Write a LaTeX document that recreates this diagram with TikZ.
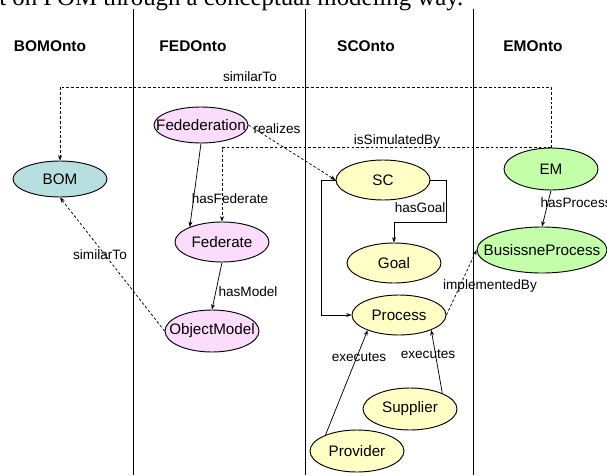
\documentclass[tikz,border=0pt]{standalone}
\usepackage{fontspec}
\setmainfont{Liberation Sans}
\newfontfamily\serifx{Liberation Serif}
\usetikzlibrary{shapes.geometric,arrows.meta}
\definecolor{cyanf}{HTML}{B8DFE0}
\definecolor{pinkf}{HTML}{FCDCFC}
\definecolor{grnf}{HTML}{C4FFAA}
\definecolor{yelf}{HTML}{FFFFC6}
\newcommand\zw[1]{\makebox[0pt]{#1}}
\begin{document}
\begin{tikzpicture}[x=0.75pt,y=-0.75pt,
  ell/.style={ellipse,draw=black,line width=0.7pt,inner sep=0pt,minimum width=70.5pt,minimum height=30pt,font=\fontsize{11.4}{13}\selectfont},
  conn/.style={draw=black,line width=0.55pt,-{Stealth[length=4pt,width=3pt]}},
  dconn/.style={conn,dash pattern=on 2pt off 1.6pt},
  lbl/.style={font=\fontsize{10.2}{12}\selectfont,inner sep=1pt},
  hdr/.style={font=\bfseries\fontsize{11.6}{13}\selectfont,inner sep=0pt},
  sepline/.style={draw=black,line width=0.75pt}]
\useasboundingbox (0,0) rectangle (607,475);
\clip (0,0) rectangle (607,475);

% cut-off text line at the top
\node[anchor=base west,inner sep=0pt,font=\serifx\fontsize{18.6}{20}\selectfont] (toptext) at (-1,5) {t on POM through a conceptual modeling way.};

% column separators
\draw[sepline] (133,9) -- (133,475);
\draw[sepline] (305,9) -- (305,475);
\draw[sepline] (473,9) -- (473,475);

% headers
\node[hdr] (h1) at (50,46) {BOMOnto};
\node[hdr] (h2) at (193,46) {FEDOnto};
\node[hdr] (h3) at (366,46) {SCOnto};
\node[hdr] (h4) at (533,46) {EMOnto};

% nodes
\node[ell,fill=cyanf,minimum height=27pt] (BOM) at (60,179) {\zw{BOM}};
\node[ell,fill=pinkf,minimum height=27pt] (Fed) at (201,125) {\zw{Fedederation}};
\node[ell,fill=pinkf] (Federate) at (222,242) {\zw{Federate}};
\node[ell,fill=pinkf,minimum height=31.5pt] (OM) at (212,331) {\zw{ObjectModel}};
\node[ell,fill=yelf] (SC) at (383,180) {\zw{SC}};
\node[ell,fill=yelf] (Goal) at (394,263) {\zw{Goal}};
\node[ell,fill=yelf] (Process) at (399,315) {\zw{Process}};
\node[ell,fill=yelf,minimum height=31.5pt] (Supplier) at (410,409) {\zw{Supplier}};
\node[ell,fill=yelf,minimum height=31.5pt] (Provider) at (357,451) {\zw{Provider}};
\node[ell,fill=grnf,minimum height=31.5pt] (EM) at (551,169) {\zw{EM}};
\node[ell,fill=grnf,minimum width=97.5pt,minimum height=34.5pt] (BP) at (542,250) {\zw{BusissneProcess}};

% connectors
\coordinate (t1) at (551,87);
\draw[dconn] (EM.north) -- (t1) -| (BOM.north);
\node[lbl] (l1) at (250,77) {similarTo};

\draw[dconn] (EM.north) -| (Federate.north);
\node[lbl] (l2) at (397,141) {isSimulatedBy};

\draw[dconn] (Fed.east) -- (SC.west);
\node[lbl] (l3) at (277,129) {realizes};

\draw[conn] (Fed.south) -- (Federate.155);
\node[lbl] (l4) at (230,199) {hasFederate};

\draw[conn] (Federate.south) -- (OM.north);
\node[lbl] (l5) at (248,292) {hasModel};

\draw[dconn] (OM.west) -- (BOM.south);
\node[lbl] (l6) at (100,255) {similarTo};

\draw[conn] (SC.east) -- ++(16,0) -- ++(0,42) -| (Goal.north);
\node[lbl,anchor=east] (l7) at (447,208) {hasGoal};

\draw[conn] (SC.west) -- ++(-14,0) |- (Process.west);

\draw[conn] (Provider.153) -- (Process.206);
\node[lbl] (l8) at (359,357) {executes};

\draw[conn] (Supplier.26) -- (Process.335);
\node[lbl] (l9) at (428,354) {executes};

\draw[conn] (EM.south) -- (BP.north);
\node[lbl,anchor=west] (l10) at (539,203) {hasProcess};

\draw[dconn] (Process.east) -- (BP.west);
\node[lbl] (l11) at (490,286) {implementedBy};
\end{tikzpicture}
\end{document}
